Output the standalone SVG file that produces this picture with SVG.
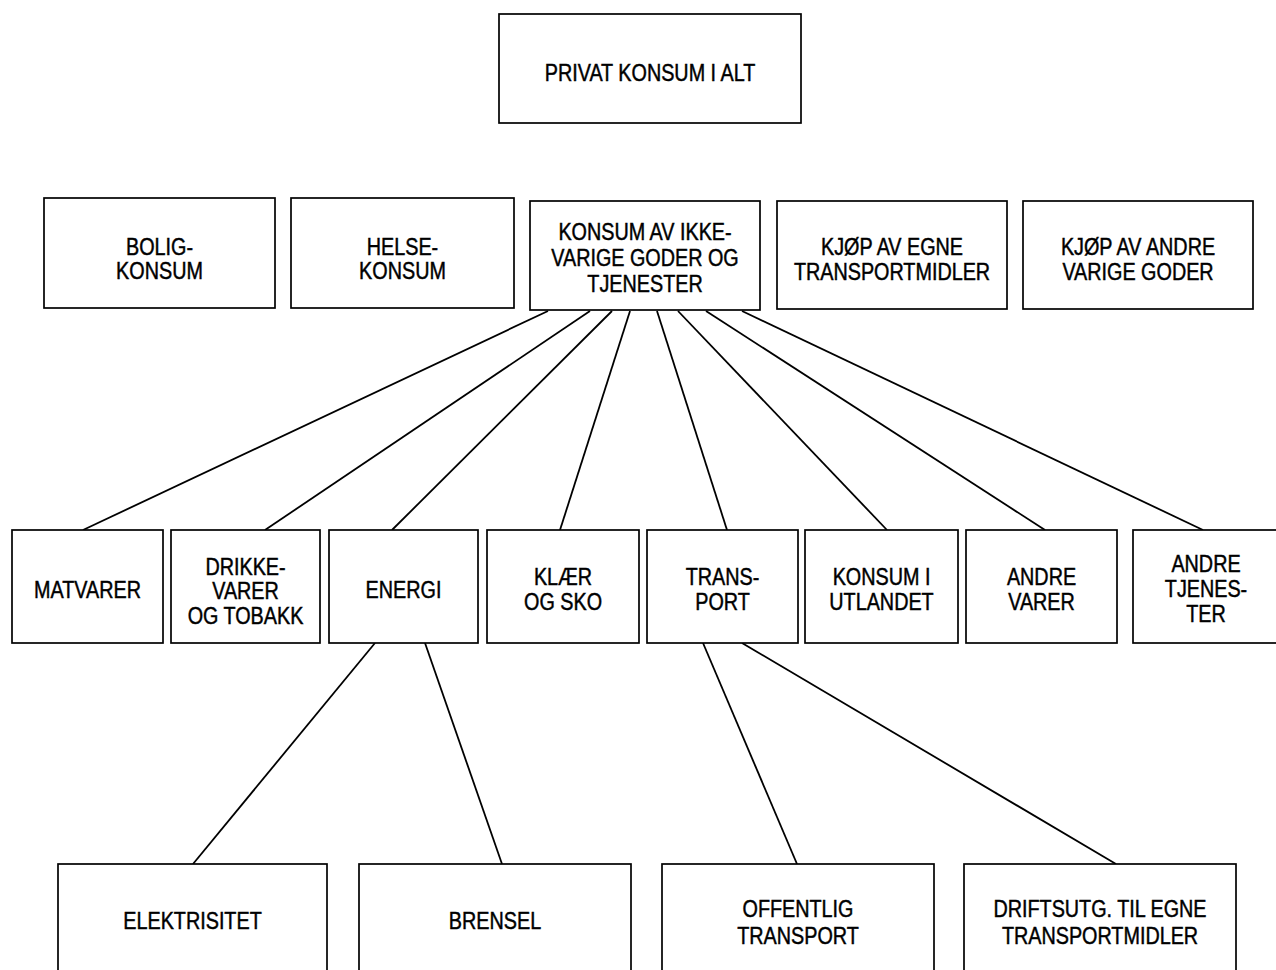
<svg xmlns="http://www.w3.org/2000/svg" width="1276" height="970" viewBox="0 0 1276 970">
<style>
.box{fill:#fff;stroke:#000;stroke-width:1.7}
.lbl{font-family:"Liberation Sans",Arial,sans-serif;font-size:23px;text-anchor:middle;fill:#000;stroke:#000;stroke-width:0.45}
.con{stroke:#000;stroke-width:1.8;fill:none}
</style>
<rect width="1276" height="970" fill="#fff"/>
<g id="connectors">
<line class="con" x1="548" y1="311" x2="83" y2="530"/>
<line class="con" x1="590" y1="311" x2="265" y2="530"/>
<line class="con" x1="612" y1="311" x2="392" y2="530"/>
<line class="con" x1="630" y1="311" x2="560" y2="530"/>
<line class="con" x1="657" y1="311" x2="727" y2="530"/>
<line class="con" x1="678" y1="311" x2="887" y2="530"/>
<line class="con" x1="706" y1="311" x2="1045" y2="530"/>
<line class="con" x1="742" y1="311" x2="1203" y2="530"/>
<line class="con" x1="375" y1="643" x2="193" y2="864"/>
<line class="con" x1="425" y1="643" x2="502" y2="864"/>
<line class="con" x1="703" y1="643" x2="797" y2="864"/>
<line class="con" x1="742" y1="643" x2="1116" y2="864"/>
</g>
<g id="n-privat"><rect class="box" x="499" y="14" width="302" height="109"/><text class="lbl" transform="translate(650 81) scale(0.86 1)"><tspan x="0" y="0">PRIVAT KONSUM I ALT</tspan></text></g>
<g id="n-bolig"><rect class="box" x="44" y="198" width="231" height="110"/><text class="lbl" transform="translate(159.5 255) scale(0.86 1)"><tspan x="0" y="0">BOLIG-</tspan><tspan x="0" y="24">KONSUM</tspan></text></g>
<g id="n-helse"><rect class="box" x="291" y="198" width="223" height="110"/><text class="lbl" transform="translate(402.5 255) scale(0.86 1)"><tspan x="0" y="0">HELSE-</tspan><tspan x="0" y="24">KONSUM</tspan></text></g>
<g id="n-ikkevarige"><rect class="box" x="530" y="201" width="230" height="109"/><text class="lbl" transform="translate(645 240) scale(0.86 1)"><tspan x="0" y="0">KONSUM AV IKKE-</tspan><tspan x="0" y="26">VARIGE GODER OG</tspan><tspan x="0" y="52">TJENESTER</tspan></text></g>
<g id="n-kjopegne"><rect class="box" x="777" y="201" width="230" height="108"/><text class="lbl" transform="translate(892 255) scale(0.86 1)"><tspan x="0" y="0">KJØP AV EGNE</tspan><tspan x="0" y="25">TRANSPORTMIDLER</tspan></text></g>
<g id="n-kjopandre"><rect class="box" x="1023" y="201" width="230" height="108"/><text class="lbl" transform="translate(1138 255) scale(0.86 1)"><tspan x="0" y="0">KJØP AV ANDRE</tspan><tspan x="0" y="25">VARIGE GODER</tspan></text></g>
<g id="n-matvarer"><rect class="box" x="12" y="530" width="151" height="113"/><text class="lbl" transform="translate(87.5 598) scale(0.86 1)"><tspan x="0" y="0">MATVARER</tspan></text></g>
<g id="n-drikke"><rect class="box" x="171" y="530" width="149" height="113"/><text class="lbl" transform="translate(245.5 575) scale(0.86 1)"><tspan x="0" y="0">DRIKKE-</tspan><tspan x="0" y="24.5">VARER</tspan><tspan x="0" y="49">OG TOBAKK</tspan></text></g>
<g id="n-energi"><rect class="box" x="329" y="530" width="149" height="113"/><text class="lbl" transform="translate(403.5 598) scale(0.86 1)"><tspan x="0" y="0">ENERGI</tspan></text></g>
<g id="n-klaer"><rect class="box" x="487" y="530" width="152" height="113"/><text class="lbl" transform="translate(563 585) scale(0.86 1)"><tspan x="0" y="0">KLÆR</tspan><tspan x="0" y="25">OG SKO</tspan></text></g>
<g id="n-transport"><rect class="box" x="647" y="530" width="151" height="113"/><text class="lbl" transform="translate(722.5 585) scale(0.86 1)"><tspan x="0" y="0">TRANS-</tspan><tspan x="0" y="25">PORT</tspan></text></g>
<g id="n-utlandet"><rect class="box" x="805" y="530" width="153" height="113"/><text class="lbl" transform="translate(881.5 585) scale(0.86 1)"><tspan x="0" y="0">KONSUM I</tspan><tspan x="0" y="25">UTLANDET</tspan></text></g>
<g id="n-andrevarer"><rect class="box" x="966" y="530" width="151" height="113"/><text class="lbl" transform="translate(1041.5 585) scale(0.86 1)"><tspan x="0" y="0">ANDRE</tspan><tspan x="0" y="25">VARER</tspan></text></g>
<g id="n-andretjen"><rect class="box" x="1133" y="530" width="155" height="113"/><text class="lbl" transform="translate(1206 572) scale(0.86 1)"><tspan x="0" y="0">ANDRE</tspan><tspan x="0" y="25">TJENES-</tspan><tspan x="0" y="50">TER</tspan></text></g>
<g id="n-elektrisitet"><rect class="box" x="58" y="864" width="269" height="120"/><text class="lbl" transform="translate(192.5 929) scale(0.86 1)"><tspan x="0" y="0">ELEKTRISITET</tspan></text></g>
<g id="n-brensel"><rect class="box" x="359" y="864" width="272" height="120"/><text class="lbl" transform="translate(495 929) scale(0.86 1)"><tspan x="0" y="0">BRENSEL</tspan></text></g>
<g id="n-offentlig"><rect class="box" x="662" y="864" width="272" height="120"/><text class="lbl" transform="translate(798 917) scale(0.86 1)"><tspan x="0" y="0">OFFENTLIG</tspan><tspan x="0" y="27">TRANSPORT</tspan></text></g>
<g id="n-driftsutg"><rect class="box" x="964" y="864" width="272" height="120"/><text class="lbl" transform="translate(1100 917) scale(0.86 1)"><tspan x="0" y="0">DRIFTSUTG. TIL EGNE</tspan><tspan x="0" y="27">TRANSPORTMIDLER</tspan></text></g>
</svg>
